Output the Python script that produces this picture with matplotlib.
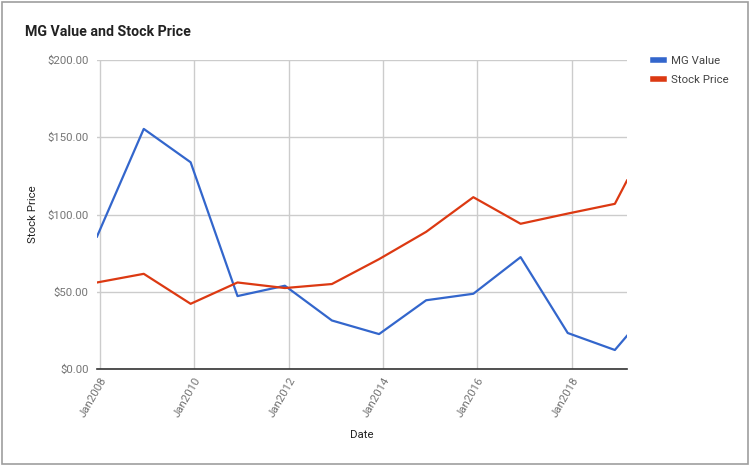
import matplotlib.pyplot as plt
import numpy as np
from datetime import datetime

# data
dates = ["2007-12-09", "2008-12-05", "2009-12-03", "2010-12-01", "2011-12-03",
         "2012-12-01", "2013-12-01", "2014-12-01", "2015-12-01", "2016-12-01",
         "2017-12-01", "2018-12-01", "2019-03-05"]
mg_value = [85.7, 155.4, 133.8, 47.2, 53.9, 31.4, 22.6, 44.5, 48.7, 72.4, 23.3, 12.3, 21.5]
stock_price = [56.0, 61.6, 42.2, 56.0, 52.4, 55.0, 71.1, 88.8, 111.2, 94.0, 100.6, 106.9, 122.0]
x_ticks = ["2008-01-01", "2010-01-01", "2012-01-01", "2014-01-01", "2016-01-01", "2018-01-01"]
y_ticks = [0, 50, 100, 150, 200]

plt.rcParams['font.family'] = ['Roboto', 'DejaVu Sans']

x = [datetime.strptime(d, "%Y-%m-%d") for d in dates]
xt = [datetime.strptime(d, "%Y-%m-%d") for d in x_ticks]

W, H = 751, 468
fig = plt.figure(figsize=(W / 100, H / 100), dpi=100)
ax = fig.add_axes([97 / W, 1 - 369 / H, (627 - 97) / W, (369 - 60) / H])

ax.plot(x, mg_value, color="#3366CC", lw=1.6, label="MG Value", zorder=3)
ax.plot(x, stock_price, color="#DC3912", lw=1.6, label="Stock Price", zorder=3)

ax.set_xlim(x[0], x[-1])
ax.set_ylim(0, 200)
ax.set_yticks(y_ticks)
ax.set_yticklabels([f"${v:.2f}" for v in y_ticks], color="#757575", fontsize=8.2)
ax.set_xticks(xt)
ax.set_xticklabels([d.strftime("Jan%Y") for d in xt], rotation=60, ha="right",
                   rotation_mode="anchor", color="#757575", fontsize=8.2)
ax.tick_params(length=0, pad=6)
ax.tick_params(axis="x", pad=5)
ax.grid(True, color="#cccccc", lw=1)
ax.set_axisbelow(True)
for s in ["top", "right", "left"]:
    ax.spines[s].set_visible(False)
ax.spines["bottom"].set_color("#333333")
ax.spines["bottom"].set_linewidth(1.2)

ax.set_ylabel("Stock Price", fontsize=8.2, color="#222222")
ax.yaxis.set_label_coords(-(97 - 38) / (627 - 97), 0.5)
fig.text(362 / W, 1 - 435 / H, "Date", fontsize=8.2, color="#222222", ha="center", va="center")
fig.text(25 / W, 1 - 32 / H, "MG Value and Stock Price", fontsize=10.2, fontweight="bold",
         color="#222222", ha="left", va="center")

# legend
leg = ax.legend(loc="upper left", bbox_to_anchor=(643 / W, 1 - 46 / H), bbox_transform=fig.transFigure,
                frameon=False, fontsize=8.2, handlelength=0.9, handletextpad=0.7, labelspacing=0.75)
for t in leg.get_texts():
    t.set_color("#444444")
for h in leg.get_lines():
    h.set_linewidth(4)

# outer frame
fig.patches.append(plt.Rectangle((2 / W, 1 - 464 / H), 746 / W, 462 / H, transform=fig.transFigure,
                                 fill=False, edgecolor="#9e9e9e", lw=1.2))

fig.savefig("out.png", dpi=100)
